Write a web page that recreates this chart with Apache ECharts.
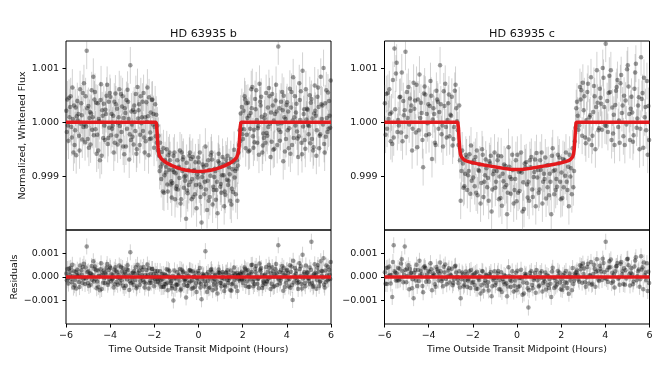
<!DOCTYPE html>
<html>
<head>
<meta charset="utf-8">
<script src="https://cdn.jsdelivr.net/npm/echarts@6/dist/echarts.min.js"></script>
<style>
html,body{margin:0;padding:0;background:#fff;}
#chart{width:667px;height:369px;}
</style>
</head>
<body>
<div id="chart"></div>
<script>
// ---------- DATA (flux & residuals in ppm) ----------
const TITLES = ['HD 63935 b', 'HD 63935 c'];
const X_TICKS = [-6, -4, -2, 0, 2, 4, 6];
const FLUX_TICKS = [0.999, 1.000, 1.001];
const RES_TICKS = [-0.001, 0, 0.001];

// time from transit midpoint (hours), common sampling grid
const TIME_H = [
-5.95,-5.85,-5.75,-5.65,-5.55,-5.45,-5.35,-5.25,-5.15,-5.05,
-4.95,-4.85,-4.75,-4.65,-4.55,-4.45,-4.35,-4.25,-4.15,-4.05,
-3.95,-3.85,-3.75,-3.65,-3.55,-3.45,-3.35,-3.25,-3.15,-3.05,
-2.95,-2.85,-2.75,-2.65,-2.55,-2.45,-2.35,-2.25,-2.15,-2.05,
-1.95,-1.85,-1.75,-1.65,-1.55,-1.45,-1.35,-1.25,-1.15,-1.05,
-0.95,-0.85,-0.75,-0.65,-0.55,-0.45,-0.35,-0.25,-0.15,-0.05,
0.05,0.15,0.25,0.35,0.45,0.55,0.65,0.75,0.85,0.95,
1.05,1.15,1.25,1.35,1.45,1.55,1.65,1.75,1.85,1.95,
2.05,2.15,2.25,2.35,2.45,2.55,2.65,2.75,2.85,2.95,
3.05,3.15,3.25,3.35,3.45,3.55,3.65,3.75,3.85,3.95,
4.05,4.15,4.25,4.35,4.45,4.55,4.65,4.75,4.85,4.95,
5.05,5.15,5.25,5.35,5.45,5.55,5.65,5.75,5.85,5.95];

// phase offsets (hours) of the folded transits
const VISIT_OFFSET_B = [-0.0375, -0.0125, 0.0125, 0.0375];
const VISIT_OFFSET_C = [-0.033, 0, 0.033];

// planet b: whitened flux (ppm from 1), four folded transits
const FLUX_B1 = [
210,-340,480,60,-150,390,-520,130,720,-80,
300,-410,90,560,-230,20,-620,340,150,-290,
470,-60,-380,250,610,-180,80,-450,380,1050,
-270,190,-500,330,-20,540,-350,110,-190,420,
-90,-380,-620,-1050,-480,-930,-1280,-700,-1120,-560,
-1180,-820,-1420,-640,-990,-1310,-560,-1050,-880,-1590,
-740,-1200,-930,-450,-1080,-1380,-690,-1010,-1250,-580,
-1140,-780,-1340,-620,-960,-1230,-510,-860,-560,160,
-310,420,80,-520,260,-140,590,-70,310,-430,
140,-250,480,-360,30,690,1400,-180,220,-540,
370,-110,560,-290,180,-640,40,950,-330,250,
-70,430,-460,120,640,-220,310,-560,80,390];
const FLUX_B2 = [
-180,450,-90,-560,270,30,610,-320,-40,1320,
-470,160,840,-130,350,-700,220,-60,490,380,
-240,120,530,-410,-70,290,-590,410,60,-330,
230,-160,650,-420,90,-280,370,-610,180,-40,
330,-60,-900,-550,-1300,-820,-610,-1150,-880,-1420,
-700,-1030,-560,-1210,-1780,-880,-1100,-640,-1330,-960,
-1150,-1850,-820,-1240,-700,-990,-1520,-860,-1100,-750,
-1300,-980,-690,-1160,-1450,-870,-1020,-700,-420,-130,
210,-480,360,-120,650,-370,40,-600,470,-210,
-380,270,-30,520,-490,200,-140,380,-720,60,
-150,620,-420,90,340,-260,570,-80,-490,230,
500,-310,160,-620,280,840,-40,350,-180,120];
const FLUX_B3 = [
420,90,-280,310,-610,150,-30,540,-370,260,
80,590,-240,360,-520,410,120,-330,690,-100,
150,-560,330,-20,-340,480,260,-120,-690,200,
-410,520,70,-230,380,-560,10,460,-300,150,
-260,-520,-380,-760,-980,-500,-880,-1090,-620,-940,
-1240,-520,-900,-1010,-750,-1160,-680,-1380,-740,-1020,
-560,-1010,-1330,-790,-1450,-610,-1190,-900,-1680,-820,
-980,-1550,-760,-1080,-680,-1290,-900,-1450,-150,280,
-130,350,-540,170,-260,430,-380,710,100,-290,
540,-90,-640,310,150,-420,260,-20,490,-310,
200,-580,30,480,-170,720,-380,150,610,-50,
-390,70,680,-150,-480,330,1000,-270,550,-100];
const FLUX_B4 = [
-60,280,640,-420,110,-250,350,-90,480,-310,
190,-140,420,-580,60,700,-290,230,-400,540,
-120,380,-250,90,520,-450,170,600,-220,-40,
310,-580,220,480,-160,90,640,-310,410,-470,
140,-250,-820,-1280,-700,-1150,-560,-1390,-920,-1230,
-850,-1500,-690,-1080,-1260,-620,-1420,-900,-1160,-650,
-1380,-780,-1100,-1620,-880,-560,-1250,-1430,-720,-1190,
-640,-1280,-1060,-830,-1520,-740,-1330,-800,-350,-220,
480,-230,120,610,-470,240,-110,380,-560,70,
-200,630,180,-510,400,-30,-340,560,90,320,
-480,270,830,-60,-300,410,-590,240,50,-220,
360,-520,210,470,-250,60,-400,590,-120,770];

// planet b: residuals (ppm)
const RES_B1 = [
150,-280,390,40,-120,310,-430,100,560,-60,
240,-330,70,450,-190,20,-510,280,120,-230,
380,-50,-310,200,490,-140,60,-370,300,1050,
-220,150,-400,270,-20,430,-280,90,-150,340,
-80,-60,0,-430,130,-310,-560,-90,-380,280,
-340,90,-500,230,-100,-380,300,-150,20,-640,
160,-290,40,1100,-170,-450,210,-80,-330,320,
-240,110,-420,290,-50,-310,400,-20,80,130,
-250,340,60,-420,210,-110,470,-60,250,-350,
110,-200,390,-290,20,550,1350,-150,180,-430,
300,-90,450,-230,140,-510,30,950,-270,200,
-60,1500,-370,100,510,-180,250,-450,60,310];
const RES_B2 = [
-140,360,-70,-450,220,20,490,-260,-30,1300,
-380,130,670,-100,280,-560,180,-50,390,300,
-190,100,420,-330,-60,230,-470,330,50,-260,
180,-130,520,-340,70,-220,300,-490,140,-30,
260,260,-280,120,-410,60,310,-260,40,-500,
200,-150,310,-340,-870,40,-180,230,-420,-40,
-230,-950,90,-320,210,-60,-560,60,-180,170,
-390,-70,180,-260,-550,40,-120,170,-90,-100,
170,-380,290,-100,520,-300,30,-480,380,-170,
-300,220,-20,420,-390,160,-110,300,-580,50,
-120,500,-340,70,270,-210,460,-60,-390,180,
400,-250,130,-500,220,670,-30,280,-140,100];
const RES_B3 = [
340,70,-220,250,-490,120,-20,430,-300,210,
60,470,-190,290,-420,330,100,-260,550,-80,
120,-450,260,-20,-270,380,210,-100,-550,160,
-330,420,60,-180,300,-450,10,370,-240,120,
-210,-200,250,-100,-300,330,20,-180,-1000,-60,
-320,340,0,-110,150,-240,260,-470,180,-90,
380,-70,-400,130,-480,300,-180,100,-700,180,
-40,-600,190,-130,280,-280,120,-600,-150,220,
-100,280,-430,140,-210,350,-300,570,80,-230,
430,-70,-510,250,120,-340,210,-20,390,-250,
160,-460,-980,380,-140,580,-300,120,490,-40,
-310,60,540,-120,-380,260,800,-220,440,-80];
const RES_B4 = [
-50,230,520,-350,90,-210,290,-80,400,-260,
160,-120,350,-480,50,580,-240,190,-330,450,
-100,310,-210,80,430,-370,140,500,-180,-30,
260,-480,180,400,-130,80,530,-260,340,-390,
120,-90,-130,-420,100,-240,250,-480,-60,-320,
40,-560,190,-180,-370,280,-500,10,-250,260,
-450,130,-180,-640,50,340,-330,-500,190,-260,
210,-350,-120,90,-580,170,-410,60,150,-100,
400,-190,100,510,-390,200,-90,320,-470,60,
-170,520,150,-420,330,-20,-280,470,80,270,
-400,220,690,-50,-250,340,-490,200,40,-180,
300,-430,180,390,-210,50,-330,490,-100,640];

// planet c: whitened flux (ppm from 1), three folded transits
const FLUX_C1 = [
350,-120,610,180,-280,900,40,470,-350,220,
560,-40,310,730,-190,420,80,-330,660,150,
-220,490,260,-420,380,1050,-60,300,-280,510,
120,-310,690,-150,-700,-520,-1180,-650,-900,-430,
-1020,-640,-1350,-780,-500,-1100,-850,-1450,-620,-960,
-1210,-700,-1000,-1540,-780,-1160,-460,-1320,-880,-1050,
-600,-1270,-930,-1600,-740,-1100,-830,-1380,-690,-1020,
-1240,-560,-950,-1410,-790,-1100,-480,-880,-1190,-650,
-930,-1200,-560,-820,-1000,-480,-350,380,-60,590,
220,-390,710,130,-250,480,960,-110,340,820,
1450,-180,560,270,-420,650,30,870,-260,400,
1050,-330,180,620,-100,460,1200,-470,280,-600];
const FLUX_C2 = [
-230,540,150,-400,1360,1100,-60,-190,390,1300,
80,440,-520,250,690,-150,360,-830,510,-20,
300,-680,150,580,-120,330,-450,710,40,-260,
470,-90,260,-420,-1450,-760,-950,-1250,-590,-1080,
-700,-1300,-880,-1500,-600,-980,-1200,-720,-1650,-900,
-1100,-620,-1400,-950,-1200,-1700,-820,-1050,-1500,-700,
-1300,-900,-1650,-760,-1150,-1450,-640,-1010,-1550,-880,
-700,-1500,-1050,-800,-1350,-1700,-900,-1250,-600,-1100,
-1400,-700,-1100,-1550,-850,-1200,-100,120,650,-250,
480,40,-320,830,190,-500,360,620,-140,280,
-70,540,960,-210,320,780,-380,170,490,-40,
660,250,-360,920,70,-500,430,820,-150,300];
const FLUX_C3 = [
520,60,-350,780,240,-180,460,920,130,-270,
650,210,-120,400,-460,880,170,530,-240,330,
760,50,-380,420,190,-220,570,-90,350,140,
-430,580,20,310,-900,-1210,-600,-980,-1320,-750,
-1180,-520,-900,-1120,-1380,-690,-1030,-760,-1240,-560,
-900,-1420,-630,-1090,-810,-1300,-1010,-600,-1250,-1460,
-920,-560,-1110,-830,-1390,-700,-1240,-920,-570,-1300,
-880,-1100,-650,-1200,-950,-620,-1330,-1050,-760,-1420,
-680,-990,-1250,-600,-1330,-900,260,-140,420,730,
-280,560,90,-420,670,280,-150,450,1000,-60,
390,860,-330,140,580,-90,720,310,-420,980,
150,470,-240,1080,310,-120,540,90,760,-330];

// planet c: residuals (ppm)
const RES_C1 = [
200,-300,450,90,1350,-150,380,-100,250,1300,
350,-520,180,-900,-150,300,70,-380,460,100,
-200,330,150,-420,240,620,-80,190,-310,370,
60,-260,480,-110,-450,190,-330,120,-80,300,
-210,170,-500,40,260,-270,60,-570,210,-120,
-350,150,-130,-640,80,-270,420,-430,10,-150,
270,-390,-60,-700,110,-1300,40,-480,170,-140,
-360,250,-80,-530,40,-290,390,-30,-320,190,
-100,-380,260,10,-150,380,150,280,-200,470,
130,-420,560,60,-290,350,760,-170,230,600,
1500,-210,410,180,-450,470,-20,640,-300,290,
780,-360,120,450,-140,320,880,-520,190,-600];
const RES_C2 = [
-290,400,80,-850,240,160,-140,570,-220,300,
40,340,-480,180,520,-170,270,-650,380,-60,
210,-560,90,430,-150,240,-390,530,20,-230,
350,-100,190,-270,-900,120,-150,-430,250,-240,
120,-500,-60,-700,230,-140,-380,130,-820,-50,
-240,260,-530,-80,-310,-820,40,-170,-620,180,
-420,-20,-760,140,-270,-560,250,-120,-670,0,
170,-620,-190,80,-470,-850,-40,-400,260,-230,
-550,160,-250,-710,0,-300,80,90,500,-240,
360,-20,-280,640,130,-420,270,480,-130,200,
-90,400,750,-190,240,600,-330,120,370,-60,
500,180,-310,700,30,-420,320,620,-140,220];
const RES_C3 = [
380,40,-280,640,190,-150,350,760,90,-220,
500,160,-100,300,-380,690,120,410,-200,260,
590,40,-310,330,150,-180,440,-80,280,100,
-350,450,10,240,-100,-400,230,-150,-470,80,
-340,220,-130,-350,-580,100,-220,50,-390,250,
-40,-520,200,-210,40,-400,-130,240,-370,-560,
-40,310,-230,50,-480,180,-340,-40,300,-400,
-30,-260,190,-340,-80,230,-470,-190,60,-520,
80,-220,-470,150,-560,-150,200,-110,330,570,
-220,430,70,-330,520,220,-120,350,780,-40,
300,670,-260,110,450,-70,560,240,-330,760,
120,370,-190,840,240,-100,420,70,590,-260];

// typical 1-sigma error bar (ppm)
const ERR_PPM = 340;

// transit models (time h, ppm)
const MODEL_B_T = [-6,-1.92,-1.89,-1.86,-1.83,-1.80,-1.77,-1.73,-1.68,-1.6,-1.5,-1.4,-1.2,-1.0,-0.8,-0.6,-0.4,-0.2,0,
  0.2,0.4,0.6,0.8,1.0,1.2,1.4,1.5,1.6,1.68,1.73,1.77,1.80,1.83,1.86,1.89,1.92,6];
const MODEL_B_F = [0,0,-90,-300,-470,-570,-620,-650,-675,-705,-735,-760,-800,-835,-862,-883,-897,-906,-909,
  -906,-897,-883,-862,-835,-800,-760,-735,-705,-675,-650,-620,-570,-470,-300,-90,0,0];
const MODEL_C_T = [-6,-2.68,-2.65,-2.62,-2.59,-2.56,-2.52,-2.47,-2.4,-2.3,-2.2,-2.0,-1.8,-1.5,-1.2,-0.9,-0.6,-0.3,0,
  0.3,0.6,0.9,1.2,1.5,1.8,2.0,2.2,2.3,2.4,2.47,2.52,2.56,2.59,2.62,2.65,2.68,6];
const MODEL_C_F = [0,0,-110,-330,-500,-590,-640,-672,-696,-715,-728,-748,-765,-788,-810,-832,-852,-868,-875,
  -868,-852,-832,-810,-788,-765,-748,-728,-715,-696,-672,-640,-590,-500,-330,-110,0,0];
const RES_MODEL_T = [-6, 6];
const RES_MODEL_F = [0, 0];

// ---------- CHART ----------
const FONT = 'DejaVu Sans';
const TXT = '#111';
function pts(offsets, arrays, base) {
  const out = [];
  arrays.forEach((arr, k) => {
    arr.forEach((v, i) => {
      out.push([TIME_H[i] + offsets[k], base + v * 1e-6, ERR_PPM * 1e-6]);
    });
  });
  return out;
}
function line(ts, fs, base) { return ts.map((t, i) => [t, base + fs[i] * 1e-6]); }

const panels = [
  { pts: pts(VISIT_OFFSET_B, [FLUX_B1, FLUX_B2, FLUX_B3, FLUX_B4], 1), model: line(MODEL_B_T, MODEL_B_F, 1) },
  { pts: pts(VISIT_OFFSET_B, [RES_B1, RES_B2, RES_B3, RES_B4], 0), model: line(RES_MODEL_T, RES_MODEL_F, 0) },
  { pts: pts(VISIT_OFFSET_C, [FLUX_C1, FLUX_C2, FLUX_C3], 1), model: line(MODEL_C_T, MODEL_C_F, 1) },
  { pts: pts(VISIT_OFFSET_C, [RES_C1, RES_C2, RES_C3], 0), model: line(RES_MODEL_T, RES_MODEL_F, 0) }
];

const LEFTS = [66, 66, 384.5, 384.5];
const W = 265;
const TOPS = [41, 230, 41, 230];
const HS = [189, 94, 189, 94];

const grids = LEFTS.map((l, i) => ({
  left: l, top: TOPS[i], width: W, height: HS[i],
  show: true, borderColor: '#000', borderWidth: 1, backgroundColor: 'transparent'
}));

const minus = v => (v < 0 ? '\u2212' : '') + Math.abs(v);
const xAxes = [0, 1, 2, 3].map(i => {
  const bottom = (i % 2 === 1);
  return {
    gridIndex: i, type: 'value', min: -6, max: 6, interval: 2,
    axisLine: { show: false, onZero: false },
    splitLine: { show: false },
    axisTick: { show: bottom, inside: false, length: 3.5, lineStyle: { color: '#000', width: 1 } },
    axisLabel: { show: bottom, fontFamily: FONT, fontSize: 9.5, color: TXT, margin: 7,
      customValues: X_TICKS, formatter: v => minus(v) },
    name: bottom ? 'Time Outside Transit Midpoint (Hours)' : '',
    nameLocation: 'middle', nameGap: 21,
    nameTextStyle: { fontFamily: FONT, fontSize: 9.5, color: TXT }
  };
});
const yAxes = [0, 1, 2, 3].map(i => {
  const res = (i % 2 === 1);
  let name = '';
  if (i === 0) name = 'Normalized, Whitened Flux';
  if (i === 1) name = 'Residuals';
  return {
    gridIndex: i, type: 'value',
    min: res ? -0.002 : 0.99801, max: res ? 0.002 : 1.0015,
    axisLine: { show: false, onZero: false },
    splitLine: { show: false },
    axisTick: { show: true, inside: false, length: 3.5, customValues: res ? RES_TICKS : FLUX_TICKS,
      lineStyle: { color: '#000', width: 1 } },
    axisLabel: { show: true, fontFamily: FONT, fontSize: 9.5, color: TXT, margin: 7,
      customValues: res ? RES_TICKS : FLUX_TICKS,
      formatter: v => (v < -1e-12 ? '\u2212' : '') + Math.abs(v).toFixed(3) },
    name: name, nameLocation: 'middle', nameGap: res ? 46 : 38, nameRotate: 90,
    nameTextStyle: { fontFamily: FONT, fontSize: 9.5, color: TXT }
  };
});

const series = [];
panels.forEach((p, i) => {
  series.push({
    type: 'custom', xAxisIndex: i, yAxisIndex: i, clip: true, z: 1, silent: true,
    data: p.pts,
    renderItem: (params, api) => {
      const x = api.value(0), y = api.value(1), e = api.value(2);
      const a = api.coord([x, y - e]);
      const b = api.coord([x, y + e]);
      return { type: 'line', shape: { x1: a[0], y1: a[1], x2: b[0], y2: b[1] },
        style: { stroke: 'rgba(110,110,110,0.3)', lineWidth: 1 } };
    }
  });
  series.push({
    type: 'scatter', xAxisIndex: i, yAxisIndex: i, z: 2, silent: true,
    symbolSize: 4.5, data: p.pts.map(d => [d[0], d[1]]),
    itemStyle: { color: 'rgba(20,20,20,0.52)' }
  });
  series.push({
    type: 'line', xAxisIndex: i, yAxisIndex: i, z: 3, silent: true,
    data: p.model, showSymbol: false, symbol: 'none',
    lineStyle: { color: '#e3191c', width: 3.5 }
  });
});

const chart = echarts.init(document.getElementById('chart'), null, { renderer: 'canvas' });
chart.setOption({
  animation: false,
  backgroundColor: '#fff',
  title: [
    { text: TITLES[0], left: 198.5, top: 24, textAlign: 'center',
      textStyle: { fontFamily: FONT, fontSize: 11.2, fontWeight: 'normal', color: TXT } },
    { text: TITLES[1], left: 517, top: 24, textAlign: 'center',
      textStyle: { fontFamily: FONT, fontSize: 11.2, fontWeight: 'normal', color: TXT } }
  ],
  grid: grids,
  xAxis: xAxes,
  yAxis: yAxes,
  series: series
});
</script>
</body>
</html>
